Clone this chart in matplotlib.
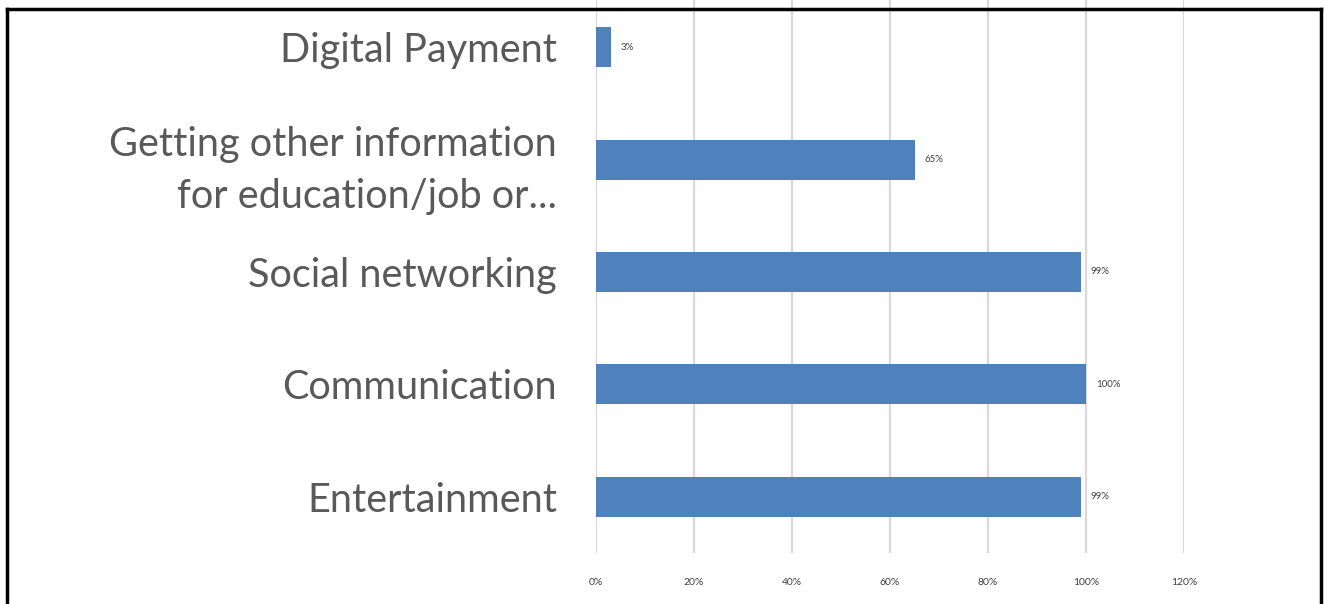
import numpy as np
from matplotlib import pyplot as plt
from matplotlib.lines import Line2D

# dados do gráfico (de baixo para cima)
categorias = ['Entertainment', 'Communication', 'Social networking',
              'Getting other information\nfor education/job or...', 'Digital Payment']
valores = [0.99, 1.00, 0.99, 0.65, 0.03]
rotulos = ['99%', '100%', '99%', '65%', '3%']
ticks_x = [0, 0.2, 0.4, 0.6, 0.8, 1.0, 1.2]
ticks_x_txt = ['0%', '20%', '40%', '60%', '80%', '100%', '120%']

plt.rcParams['font.family'] = ['Lato', 'DejaVu Sans']

W, H = 1324, 604
fig = plt.figure(figsize=(W/100, H/100), dpi=100)
# area do grafico em pixels: x 596..1184, y -9..553
ax = fig.add_axes([596/W, 1 - 553/H, (1184 - 596)/W, 562/H])

y = np.arange(len(categorias))
ax.barh(y, valores, height=0.355, color='#4f81bd', zorder=3)
ax.set_ylim(-0.5, len(categorias) - 0.5)
ax.set_xlim(0, 1.2)

for yi, v, r in zip(y, valores, rotulos):
    ax.annotate(r, (v, yi), xytext=(7, 0), textcoords='offset points',
                va='center', ha='left', fontsize=7, color='#404040')

ax.set_xticks(ticks_x)
ax.set_xticklabels(ticks_x_txt, fontsize=7.5, color='#404040')
ax.set_yticks(y)
ax.set_yticklabels(categorias, fontsize=28.5, color='#595959', linespacing=1.5)
ax.tick_params(axis='both', length=0)
ax.tick_params(axis='y', pad=28)
ax.tick_params(axis='x', pad=18)
ax.grid(axis='x', color='#d9d9d9', linewidth=1.6, zorder=0)
for s in ax.spines.values():
    s.set_visible(False)

# moldura preta
for xs, ys in [([7/W, 1321/W], [1 - 9/H, 1 - 9/H]),
               ([7/W, 7/W], [0, 1 - 9/H]),
               ([1321/W, 1321/W], [0, 1 - 9/H])]:
    fig.add_artist(Line2D(xs, ys, color='black', linewidth=2.5, transform=fig.transFigure))

plt.savefig('out.png', dpi=100)
